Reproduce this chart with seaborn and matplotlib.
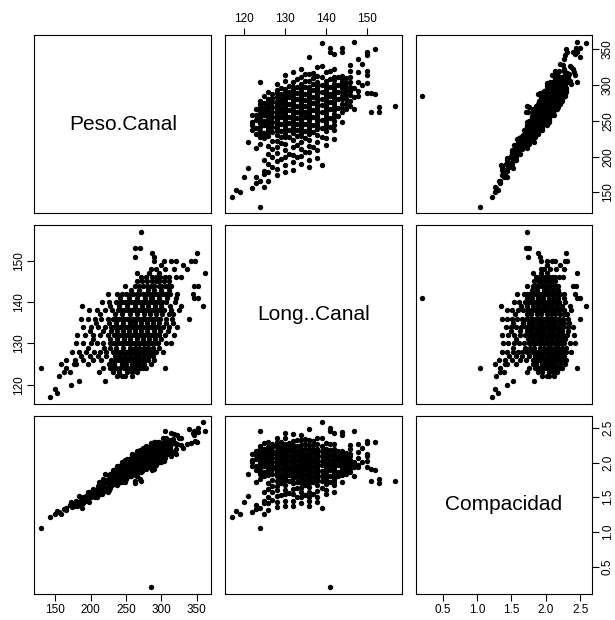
"""Scatterplot matrix of carcass measurements (Peso, Longitud, Compacidad).

Rebuilt with seaborn's PairGrid, styled like R's pairs() output.
"""

import matplotlib

matplotlib.use("Agg")

import matplotlib.pyplot as plt
import pandas as pd
import seaborn as sns

# ---------------------------------------------------------------------------
# Data (one row per carcass)
# ---------------------------------------------------------------------------

peso_canal = [
    143, 153, 150, 172, 184, 221,
    156, 238, 245, 249, 259,
    163, 171, 212, 232, 252, 266,
    130, 166, 218, 228, 236, 241, 247, 254, 262, 270, 278, 305,
    158, 176, 180, 196, 226, 244, 258, 268, 285,
    166, 178, 190, 204, 215, 229, 238, 246, 251, 257, 264, 272, 281, 290,
    186, 199, 211, 234, 248, 262, 276, 288,
    174, 183, 194, 205, 213, 222, 231, 240, 246, 253, 259, 266, 271, 278, 284, 293, 302,
    197, 219, 236, 255, 268, 281, 296,
    179, 189, 200, 209, 218, 227, 235, 243, 250, 256, 262, 268, 274, 280, 287, 295, 306, 314,
    204, 228, 247, 265, 283, 299,
    181, 192, 203, 214, 224, 233, 241, 249, 256, 262, 268, 273, 279, 284, 290, 297, 305, 318,
    199, 217, 238, 254, 271, 289, 309,
    190, 201, 211, 220, 229, 237, 244, 251, 258, 264, 270, 276, 282, 288, 295, 302, 311, 322,
    207, 226, 246, 263, 279, 297, 316,
    186, 196, 206, 215, 224, 232, 240, 247, 254, 261, 267, 273, 279, 285, 291, 298, 306, 315, 339,
    213, 235, 256, 275, 293, 310, 317,
    198, 209, 220, 230, 239, 247, 255, 262, 269, 276, 282, 289, 296, 304, 313, 325,
    188, 228, 251, 272, 291, 327, 359,
    216, 226, 236, 245, 253, 261, 268, 275, 282, 289, 297, 306, 319,
    242, 266, 287, 308, 346, 352,
    225, 238, 250, 260, 269, 278, 286, 294, 302, 312, 322, 344,
    257, 281, 300,
    248, 262, 274, 285, 296, 305, 313, 346, 352,
    266, 280, 292, 303,
    271, 286, 298, 311, 320, 328,
    266, 283, 296, 361,
    285, 292, 305, 318, 336,
    300, 330,
    289, 303, 314, 320, 342, 347,
    262, 289,
    287, 350,
    270, 262,
    271,
    285,
    # dense core
    240, 259,
    232, 250, 258, 266, 274,
    233, 250, 262, 275,
    234, 242, 254, 260, 268, 277,
    222, 241, 255, 269, 282,
    236, 243, 250, 256, 262, 269, 275, 289,
    228, 246, 262, 275, 288,
    231, 239, 246, 253, 259, 265, 271, 277, 284, 291,
    238, 256, 274, 291,
    237, 245, 252, 259, 265, 270, 276, 282, 287, 293,
    229, 246, 262, 280, 298,
    233, 241, 248, 255, 261, 267, 273, 279, 285, 292,
    236, 255, 271, 288, 306,
    236, 244, 251, 258, 264, 270, 276, 282, 288, 295,
    245, 265, 284, 301,
    243, 251, 259, 266, 272, 279, 286, 293, 300,
    240, 262, 281, 300, 312,
    241, 249, 257, 265, 272, 279, 286, 293, 301,
    254, 277, 297, 320,
    244, 255, 265, 274, 282, 290, 298, 307,
    268, 290, 311,
    268, 280, 290, 300, 309,
    273, 286, 297, 310,
    278, 292, 305,
]

long_canal = [
    117, 118, 119, 120, 121, 121,
    122, 122, 122, 122, 122,
    123, 123, 123, 123, 123, 123,
    124, 124, 124, 124, 124, 124, 124, 124, 124, 124, 124, 124,
    125, 125, 125, 125, 125, 125, 125, 125, 125,
    126, 126, 126, 126, 126, 126, 126, 126, 126, 126, 126, 126, 126, 126,
    127, 127, 127, 127, 127, 127, 127, 127,
    128, 128, 128, 128, 128, 128, 128, 128, 128, 128, 128, 128, 128, 128, 128, 128, 128,
    129, 129, 129, 129, 129, 129, 129,
    130, 130, 130, 130, 130, 130, 130, 130, 130, 130, 130, 130, 130, 130, 130, 130, 130, 130,
    131, 131, 131, 131, 131, 131,
    132, 132, 132, 132, 132, 132, 132, 132, 132, 132, 132, 132, 132, 132, 132, 132, 132, 132,
    133, 133, 133, 133, 133, 133, 133,
    134, 134, 134, 134, 134, 134, 134, 134, 134, 134, 134, 134, 134, 134, 134, 134, 134, 134,
    135, 135, 135, 135, 135, 135, 135,
    136, 136, 136, 136, 136, 136, 136, 136, 136, 136, 136, 136, 136, 136, 136, 136, 136, 136, 136,
    137, 137, 137, 137, 137, 137, 137,
    138, 138, 138, 138, 138, 138, 138, 138, 138, 138, 138, 138, 138, 138, 138, 138,
    139, 139, 139, 139, 139, 139, 139,
    140, 140, 140, 140, 140, 140, 140, 140, 140, 140, 140, 140, 140,
    141, 141, 141, 141, 141, 141,
    142, 142, 142, 142, 142, 142, 142, 142, 142, 142, 142, 142,
    143, 143, 143,
    144, 144, 144, 144, 144, 144, 144, 144, 144,
    145, 145, 145, 145,
    146, 146, 146, 146, 146, 146,
    147, 147, 147, 147,
    148, 148, 148, 148, 148,
    149, 149,
    150, 150, 150, 150, 150, 150,
    151, 151,
    152, 152,
    153, 153,
    157,
    141,
    # dense core
    123, 123,
    124, 124, 124, 124, 124,
    125, 125, 125, 125,
    126, 126, 126, 126, 126, 126,
    127, 127, 127, 127, 127,
    128, 128, 128, 128, 128, 128, 128, 128,
    129, 129, 129, 129, 129,
    130, 130, 130, 130, 130, 130, 130, 130, 130, 130,
    131, 131, 131, 131,
    132, 132, 132, 132, 132, 132, 132, 132, 132, 132,
    133, 133, 133, 133, 133,
    134, 134, 134, 134, 134, 134, 134, 134, 134, 134,
    135, 135, 135, 135, 135,
    136, 136, 136, 136, 136, 136, 136, 136, 136, 136,
    137, 137, 137, 137,
    138, 138, 138, 138, 138, 138, 138, 138, 138,
    139, 139, 139, 139, 139,
    140, 140, 140, 140, 140, 140, 140, 140, 140,
    141, 141, 141, 141,
    142, 142, 142, 142, 142, 142, 142, 142,
    143, 143, 143,
    144, 144, 144, 144, 144,
    145, 145, 145, 145,
    146, 146, 146,
]

compacidad = [
    1.22, 1.30, 1.26, 1.43, 1.52, 1.83,
    1.28, 1.95, 2.01, 2.04, 2.12,
    1.33, 1.39, 1.72, 1.89, 2.05, 2.16,
    1.05, 1.34, 1.76, 1.84, 1.90, 1.94, 1.99, 2.05, 2.11, 2.18, 2.24, 2.46,
    1.26, 1.41, 1.44, 1.57, 1.81, 1.95, 2.06, 2.14, 2.28,
    1.32, 1.41, 1.51, 1.62, 1.71, 1.82, 1.89, 1.95, 1.99, 2.04, 2.10, 2.16, 2.23, 2.30,
    1.46, 1.57, 1.66, 1.84, 1.95, 2.06, 2.17, 2.27,
    1.36, 1.43, 1.52, 1.60, 1.66, 1.73, 1.80, 1.88, 1.92, 1.98, 2.02, 2.08, 2.12, 2.17, 2.22, 2.29, 2.36,
    1.53, 1.70, 1.83, 1.98, 2.08, 2.18, 2.29,
    1.38, 1.45, 1.54, 1.61, 1.68, 1.75, 1.81, 1.87, 1.92, 1.97, 2.02, 2.06, 2.11, 2.15, 2.21, 2.27, 2.35, 2.42,
    1.56, 1.74, 1.89, 2.02, 2.16, 2.28,
    1.37, 1.45, 1.54, 1.62, 1.70, 1.77, 1.83, 1.89, 1.94, 1.98, 2.03, 2.07, 2.11, 2.15, 2.20, 2.25, 2.31, 2.41,
    1.50, 1.63, 1.79, 1.91, 2.04, 2.17, 2.32,
    1.42, 1.50, 1.57, 1.64, 1.71, 1.77, 1.82, 1.87, 1.93, 1.97, 2.01, 2.06, 2.10, 2.15, 2.20, 2.25, 2.32, 2.40,
    1.53, 1.67, 1.82, 1.95, 2.07, 2.20, 2.34,
    1.37, 1.44, 1.51, 1.58, 1.65, 1.71, 1.76, 1.82, 1.87, 1.92, 1.96, 2.01, 2.05, 2.10, 2.14, 2.19, 2.25, 2.32, 2.49,
    1.55, 1.72, 1.87, 2.01, 2.14, 2.26, 2.31,
    1.43, 1.51, 1.59, 1.67, 1.73, 1.79, 1.85, 1.90, 1.95, 2.00, 2.04, 2.09, 2.14, 2.20, 2.27, 2.36,
    1.35, 1.64, 1.81, 1.96, 2.09, 2.35, 2.58,
    1.54, 1.61, 1.69, 1.75, 1.81, 1.86, 1.91, 1.96, 2.01, 2.06, 2.12, 2.19, 2.28,
    1.72, 1.89, 2.04, 2.18, 2.45, 2.50,
    1.58, 1.68, 1.76, 1.83, 1.89, 1.96, 2.01, 2.07, 2.13, 2.20, 2.27, 2.42,
    1.80, 1.97, 2.10,
    1.72, 1.82, 1.90, 1.98, 2.06, 2.12, 2.17, 2.40, 2.44,
    1.83, 1.93, 2.01, 2.09,
    1.86, 1.96, 2.04, 2.13, 2.19, 2.25,
    1.81, 1.93, 2.01, 2.46,
    1.93, 1.97, 2.06, 2.15, 2.27,
    2.01, 2.21,
    1.93, 2.02, 2.09, 2.13, 2.28, 2.31,
    1.74, 1.91,
    1.89, 2.30,
    1.76, 1.71,
    1.73,
    0.20,
    # dense core
    1.95, 2.11,
    1.87, 2.02, 2.08, 2.15, 2.21,
    1.86, 2.00, 2.10, 2.20,
    1.86, 1.92, 2.02, 2.06, 2.13, 2.20,
    1.75, 1.90, 2.01, 2.12, 2.22,
    1.84, 1.90, 1.95, 2.00, 2.05, 2.10, 2.15, 2.26,
    1.77, 1.91, 2.03, 2.13, 2.23,
    1.78, 1.84, 1.89, 1.95, 1.99, 2.04, 2.08, 2.13, 2.18, 2.24,
    1.82, 1.95, 2.09, 2.22,
    1.80, 1.86, 1.91, 1.96, 2.01, 2.05, 2.09, 2.14, 2.17, 2.22,
    1.72, 1.85, 1.97, 2.11, 2.24,
    1.74, 1.80, 1.85, 1.90, 1.95, 1.99, 2.04, 2.08, 2.13, 2.18,
    1.75, 1.89, 2.01, 2.13, 2.27,
    1.74, 1.79, 1.85, 1.90, 1.94, 1.99, 2.03, 2.07, 2.12, 2.17,
    1.79, 1.93, 2.07, 2.20,
    1.76, 1.82, 1.88, 1.93, 1.97, 2.02, 2.07, 2.12, 2.17,
    1.73, 1.88, 2.02, 2.16, 2.24,
    1.72, 1.78, 1.84, 1.89, 1.94, 1.99, 2.04, 2.09, 2.15,
    1.80, 1.96, 2.11, 2.27,
    1.72, 1.80, 1.87, 1.93, 1.99, 2.04, 2.10, 2.16,
    1.87, 2.03, 2.17,
    1.86, 1.94, 2.01, 2.08, 2.15,
    1.88, 1.97, 2.05, 2.14,
    1.90, 2.00, 2.09,
]

var_names = ["Peso.Canal", "Long..Canal", "Compacidad"]
peso_ticks = [150, 200, 250, 300, 350]
long_ticks = [120, 130, 140, 150]
comp_ticks = [0.5, 1.0, 1.5, 2.0, 2.5]
comp_labels = ["0.5", "1.0", "1.5", "2.0", "2.5"]


# ---------------------------------------------------------------------------
# Plot
# ---------------------------------------------------------------------------

sns.set_theme(
    style="white",
    rc={
        "axes.edgecolor": "black",
        "axes.linewidth": 0.8,
        "axes.xmargin": 0.04,
        "axes.ymargin": 0.04,
        "xtick.direction": "out",
        "ytick.direction": "out",
        "xtick.color": "black",
        "ytick.color": "black",
        "xtick.major.size": 5,
        "ytick.major.size": 5,
        "xtick.major.width": 0.8,
        "ytick.major.width": 0.8,
        "xtick.labelsize": 8.5,
        "ytick.labelsize": 8.5,
    },
)
plt.rcParams["font.family"] = ["Liberation Sans", "DejaVu Sans"]

df = pd.DataFrame(
    {var_names[0]: peso_canal, var_names[1]: long_canal, var_names[2]: compacidad}
)

g = sns.PairGrid(df, vars=var_names, despine=False, height=2.0)
g.map_offdiag(sns.scatterplot, color="black", s=15, linewidth=0)

g.figure.set_size_inches(6.15, 6.2)
g.figure.subplots_adjust(
    left=0.056, right=0.963, bottom=0.042, top=0.9435, wspace=0.078, hspace=0.068
)

tick_sets = {
    0: (peso_ticks, [str(t) for t in peso_ticks]),
    1: (long_ticks, [str(t) for t in long_ticks]),
    2: (comp_ticks, comp_labels),
}

for i in range(3):
    for j in range(3):
        ax = g.axes[i, j]
        ax.set_xlabel("")
        ax.set_ylabel("")
        ax.tick_params(
            which="both", bottom=False, top=False, left=False, right=False,
            labelbottom=False, labeltop=False, labelleft=False, labelright=False,
        )
        for spine in ax.spines.values():
            spine.set_visible(True)
            spine.set_color("black")
            spine.set_linewidth(0.8)
        if i == j:
            ax.text(
                0.5, 0.5, var_names[i], transform=ax.transAxes,
                ha="center", va="center", fontsize=15, color="black",
            )

# shared locators: set once per column / row
for k in range(3):
    ticks, labels = tick_sets[k]
    g.axes[2, k].set_xticks(ticks)
    g.axes[2, k].set_xticklabels(labels)
    g.axes[k, 0].set_yticks(ticks)
    g.axes[k, 0].set_yticklabels(labels)

# R pairs() style: alternating outer axes
g.axes[0, 1].tick_params(axis="x", top=True, labeltop=True, pad=2)
g.axes[2, 0].tick_params(axis="x", bottom=True, labelbottom=True, pad=2)
g.axes[2, 2].tick_params(axis="x", bottom=True, labelbottom=True, pad=2)
g.axes[1, 0].tick_params(axis="y", left=True, labelleft=True, labelrotation=90, pad=2)
g.axes[0, 2].tick_params(axis="y", right=True, labelright=True, labelrotation=90, pad=2)
g.axes[2, 2].tick_params(axis="y", right=True, labelright=True, labelrotation=90, pad=2)

for ax in (g.axes[1, 0], g.axes[0, 2], g.axes[2, 2]):
    for lab in ax.get_yticklabels():
        lab.set_verticalalignment("center")

g.figure.savefig("out.png", dpi=100)
plt.close(g.figure)
